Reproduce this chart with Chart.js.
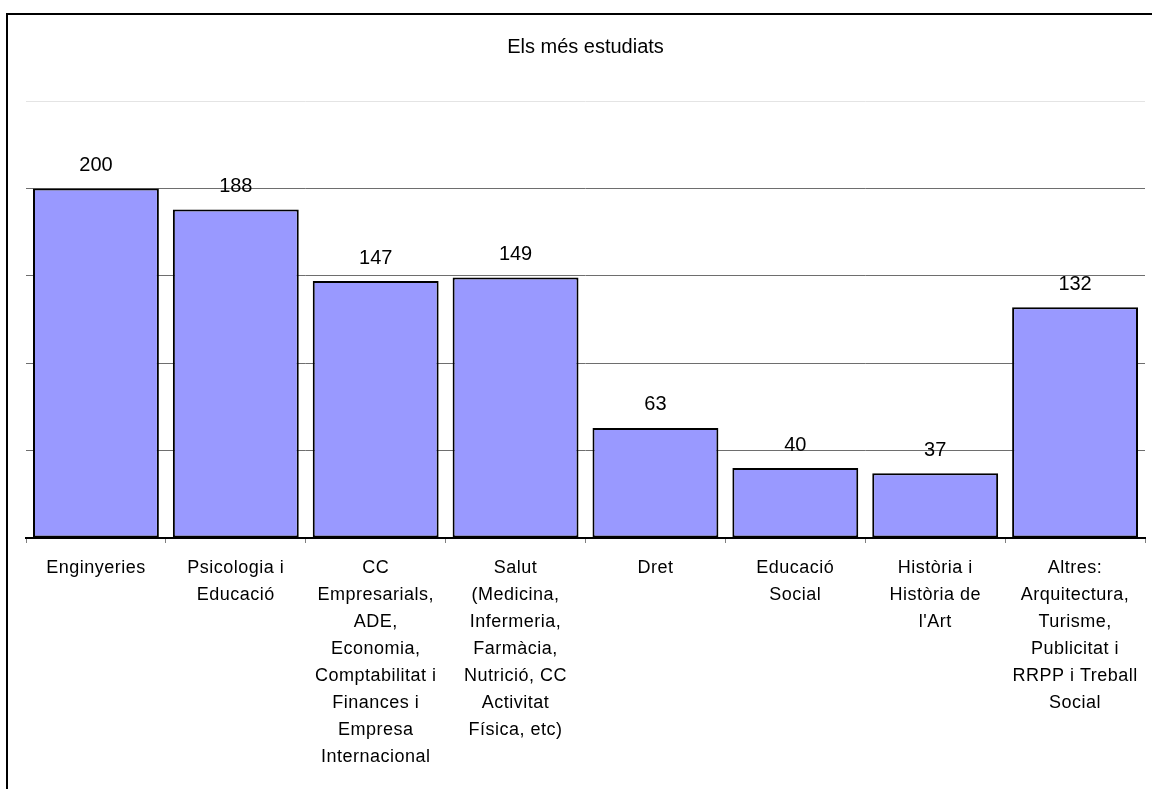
<!DOCTYPE html>
<html>
<head>
<meta charset="utf-8">
<script src="https://cdn.jsdelivr.net/npm/chart.js@4"></script>
<style>
  html, body { margin: 0; padding: 0; background: #fff; }
  #wrap { position: relative; width: 1152px; height: 789px; overflow: hidden; }
  #frame { position: absolute; left: 6px; top: 13px; width: 2000px; height: 2000px;
           border-top: 2px solid #000; border-left: 2px solid #000; box-sizing: border-box; }
  canvas { position: absolute; left: 0; top: 0; }
</style>
</head>
<body>
<div id="wrap">
  <div id="frame"></div>
  <canvas id="c" width="1152" height="789"></canvas>
</div>
<script>
const chartTitle = "Els més estudiats";
const categories = [
  "Enginyeries",
  ["Psicologia i", "Educació"],
  ["CC", "Empresarials,", "ADE,", "Economia,", "Comptabilitat i", "Finances i", "Empresa", "Internacional"],
  ["Salut", "(Medicina,", "Infermeria,", "Farmàcia,", "Nutrició, CC", "Activitat", "Física, etc)"],
  "Dret",
  ["Educació", "Social"],
  ["Història i", "Història de", "l'Art"],
  ["Altres:", "Arquitectura,", "Turisme,", "Publicitat i", "RRPP i Treball", "Social"]
];
const values = [200, 188, 147, 149, 63, 40, 37, 132];
const yMin = 0, yMax = 250, yStep = 50;

const FONT = "'Liberation Sans', Arial, sans-serif";

const valueLabels = {
  id: 'valueLabels',
  afterDatasetsDraw(chart) {
    const ctx = chart.ctx;
    const meta = chart.getDatasetMeta(0);
    ctx.save();
    ctx.font = "20px " + FONT;
    ctx.fillStyle = '#000';
    ctx.textAlign = 'center';
    ctx.textBaseline = 'middle';
    meta.data.forEach((bar, i) => {
      ctx.fillText(String(values[i]), bar.x, bar.y - 23);
    });
    ctx.restore();
  }
};

new Chart(document.getElementById('c'), {
  type: 'bar',
  data: {
    labels: categories,
    datasets: [{
      data: values,
      backgroundColor: '#9999FF',
      borderColor: '#000000',
      borderWidth: 2,
      borderSkipped: false,
      barPercentage: 0.9,
      categoryPercentage: 1.0
    }]
  },
  options: {
    responsive: false,
    animation: false,
    devicePixelRatio: 1,
    layout: { padding: { left: 26, right: 7, top: 0, bottom: 0 } },
    plugins: {
      legend: { display: false },
      tooltip: { enabled: false },
      title: {
        display: true,
        text: chartTitle,
        color: '#000',
        font: { family: FONT, size: 20, weight: 'normal', lineHeight: 1.2 },
        padding: { top: 35, bottom: 42 }
      }
    },
    scales: {
      x: {
        grid: {
          offset: true,
          drawOnChartArea: false,
          drawTicks: true,
          tickLength: 5,
          color: '#808080',
          lineWidth: 1
        },
        border: { display: true, color: '#000', width: 2 },
        ticks: {
          color: '#000',
          font: { family: FONT, size: 18, lineHeight: 1.5 },
          padding: 12,
          maxRotation: 0,
          minRotation: 0,
          autoSkip: false
        },
        afterFit(scale) {
          scale.height = 251;
          if (!scale._lsWrapped) {
            const orig = scale.drawLabels;
            scale.drawLabels = function (area) {
              const ctx = this.ctx;
              ctx.save();
              try { ctx.letterSpacing = '0.5px'; } catch (e) {}
              orig.call(this, area);
              ctx.restore();
            };
            scale._lsWrapped = true;
          }
        }
      },
      y: {
        min: yMin,
        max: yMax,
        ticks: { display: false, stepSize: yStep },
        border: { display: false },
        grid: {
          drawTicks: false,
          color: (c) => (c.tick && c.tick.value === yMax) ? '#e4e4e4' : '#6e6e6e',
          lineWidth: 1
        },
        afterFit(scale) { scale.width = 0; }
      }
    }
  },
  plugins: [valueLabels]
});
</script>
</body>
</html>
